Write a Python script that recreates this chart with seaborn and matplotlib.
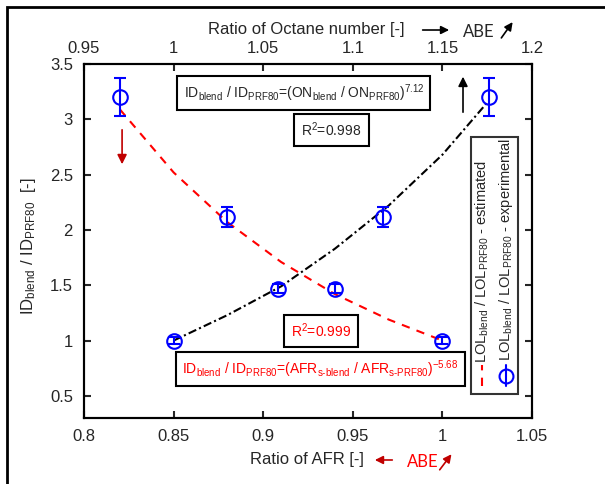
import numpy as np
import pandas as pd
import matplotlib
matplotlib.use('Agg')
import matplotlib.pyplot as plt
import seaborn as sns
from matplotlib.lines import Line2D
from matplotlib.patches import Rectangle

# experimental points, AFR based (bottom axis)
afr_ratio = [0.82, 0.88, 0.94, 1.0]
id_afr = [3.2, 2.12, 1.47, 1.0]
err_afr = [0.17, 0.09, 0.04, 0.03]

# experimental points, octane number based (top axis)
on_ratio = [1.0, 1.058, 1.117, 1.176]
id_on = [1.0, 1.47, 2.12, 3.2]
err_on = [0.03, 0.04, 0.09, 0.17]

# fitted curves
afr_fit_x = [0.82, 0.85, 0.88, 0.91, 0.94, 0.97, 1.0]
afr_fit_y = [3.09, 2.52, 2.07, 1.71, 1.42, 1.19, 1.0]
on_fit_x = [1.0, 1.03, 1.06, 1.09, 1.12, 1.15, 1.176]
on_fit_y = [1.0, 1.23, 1.49, 1.83, 2.22, 2.68, 3.17]

sns.set_style('ticks')
plt.rcParams['font.family'] = ['Liberation Sans', 'DejaVu Sans']
plt.rcParams['mathtext.fontset'] = 'custom'
plt.rcParams['mathtext.rm'] = 'Liberation Sans'
plt.rcParams['mathtext.it'] = 'Liberation Sans:italic'

fig = plt.figure(figsize=(6.05, 4.84), dpi=100)
ax = fig.add_axes([84 / 605, 66 / 484, 448 / 605, 354 / 484])
ax2 = ax.twiny()

red_df = pd.DataFrame({'x': afr_fit_x, 'y': afr_fit_y})
blk_df = pd.DataFrame({'x': on_fit_x, 'y': on_fit_y})
sns.lineplot(data=red_df, x='x', y='y', ax=ax, color='red', linestyle=(0, (4, 3.5)), lw=1.5)
sns.lineplot(data=blk_df, x='x', y='y', ax=ax2, color='black', linestyle=(0, (4, 1.5, 1, 1.5)), lw=1.5)

ax.errorbar(afr_ratio, id_afr, yerr=err_afr, fmt='o', mfc='none', mec='blue', ecolor='blue',
            ms=10.5, mew=1.5, elinewidth=1.5, capsize=4, capthick=1.5, zorder=5)
ax2.errorbar(on_ratio, id_on, yerr=err_on, fmt='o', mfc='none', mec='blue', ecolor='blue',
             ms=10.5, mew=1.5, elinewidth=1.5, capsize=4, capthick=1.5, zorder=5)

ax.set_xlim(0.8, 1.05)
ax.set_ylim(0.3, 3.5)
ax2.set_xlim(0.95, 1.2)
ax.set_xticks(np.arange(0.8, 1.051, 0.05))
ax.set_xticklabels(['0.8', '0.85', '0.9', '0.95', '1', '1.05'])
ax.set_yticks(np.arange(0.5, 3.51, 0.5))
ax.set_yticklabels(['0.5', '1', '1.5', '2', '2.5', '3', '3.5'])
ax2.set_xticks(np.arange(0.95, 1.201, 0.05))
ax2.set_xticklabels(['0.95', '1', '1.05', '1.1', '1.15', '1.2'])
ax.set_xlabel('')
ax.set_ylabel(r'ID$_{\rm blend}$ / ID$_{\rm PRF80}$  [-]', fontsize=12)
ax.yaxis.set_label_coords(-0.103, 0.486)
ax2.set_xlabel('')

for a in (ax, ax2):
    for s in a.spines.values():
        s.set_linewidth(1.5)
        s.set_color('black')
ax.tick_params(direction='in', length=5, width=1.5, labelsize=12, right=True, top=False, pad=8)
ax2.tick_params(direction='in', length=5, width=1.5, labelsize=12, pad=6)

# equation boxes
box = dict(boxstyle='square,pad=0.45', fc='white', ec='black', lw=1.5)
ax.text(0.491, 0.917, r'ID$_{\rm blend}$ / ID$_{\rm PRF80}$=(ON$_{\rm blend}$ / ON$_{\rm PRF80}$)$^{7.12}$',
        transform=ax.transAxes, ha='center', va='center', fontsize=10, bbox=box)
ax.text(0.5525, 0.814, r'R$^2$=0.998', transform=ax.transAxes, ha='center', va='center',
        fontsize=10, bbox=dict(boxstyle='square,pad=0.5', fc='white', ec='black', lw=1.5))
ax.text(0.530, 0.246, r'R$^2$=0.999', color='red', transform=ax.transAxes, ha='center', va='center',
        fontsize=10, bbox=dict(boxstyle='square,pad=0.5', fc='white', ec='black', lw=1.5))
ax.text(0.528, 0.138, r'ID$_{\rm blend}$ / ID$_{\rm PRF80}$=(AFR$_{\rm s\text{-}blend}$ / AFR$_{\rm s\text{-}PRF80}$)$^{-5.68}$',
        color='red', transform=ax.transAxes, ha='center', va='center', fontsize=10, bbox=box)

# arrows inside the axes
ax.annotate('', xy=(0.846, 0.972), xytext=(0.846, 0.856), xycoords='axes fraction',
            arrowprops=dict(arrowstyle='-|>', color='black', lw=1.2, mutation_scale=14))
ax.annotate('', xy=(0.085, 0.709), xytext=(0.085, 0.822), xycoords='axes fraction',
            arrowprops=dict(arrowstyle='-|>', color='#C00000', lw=1.2, mutation_scale=14))

# rotated legend
ax.add_patch(Rectangle((0.864, 0.068), 0.105, 0.726, transform=ax.transAxes,
                       fc='white', ec='#333333', lw=1.5, zorder=6))
ax.add_line(Line2D([0.889, 0.889], [0.09, 0.15], transform=ax.transAxes, color='red',
                   lw=1.5, linestyle=(0, (4, 3.5)), zorder=7))
ax.add_line(Line2D([0.941, 0.941], [0.09, 0.15], transform=ax.transAxes, color='blue',
                   lw=1.5, zorder=7))
ax.plot([0.941], [0.12], transform=ax.transAxes, marker='o', ms=10, mfc='none', mec='blue',
        mew=1.5, zorder=7)
ax.text(0.889, 0.155, r'LOL$_{\rm blend}$ / LOL$_{\rm PRF80}$ - estimated', rotation=90,
        transform=ax.transAxes, ha='center', va='bottom', fontsize=10.5, zorder=7)
ax.text(0.941, 0.16, r'LOL$_{\rm blend}$ / LOL$_{\rm PRF80}$ - experimental', rotation=90,
        transform=ax.transAxes, ha='center', va='bottom', fontsize=10.5, zorder=7)

# axis titles with ABE arrows
fig.text(0.507, 0.940, 'Ratio of Octane number [-]', ha='center', va='center', fontsize=12)
fig.add_artist(matplotlib.patches.FancyArrowPatch((0.694, 0.938), (0.747, 0.938), transform=fig.transFigure,
                                                  arrowstyle='-|>', color='black', lw=1.2, mutation_scale=12))
fig.text(0.792, 0.934, 'ABE', ha='center', va='center', fontsize=12, family=['Lato', 'DejaVu Sans'])
fig.add_artist(matplotlib.patches.FancyArrowPatch((0.826, 0.917), (0.850, 0.959), transform=fig.transFigure,
                                                  arrowstyle='-|>', color='black', lw=1.2, mutation_scale=12))

fig.text(0.508, 0.0496, 'Ratio of AFR [-]', ha='center', va='center', fontsize=12)
fig.add_artist(matplotlib.patches.FancyArrowPatch((0.653, 0.0496), (0.615, 0.0496), transform=fig.transFigure,
                                                  arrowstyle='-|>', color='#C00000', lw=1.2, mutation_scale=12))
fig.text(0.698, 0.0455, 'ABE', ha='center', va='center', fontsize=12, color='red', family=['Lato', 'DejaVu Sans'])
fig.add_artist(matplotlib.patches.FancyArrowPatch((0.724, 0.0248), (0.749, 0.0661), transform=fig.transFigure,
                                                  arrowstyle='-|>', color='#C00000', lw=1.2, mutation_scale=12))

# outer frame (left and top edges visible)
fig.add_artist(Rectangle((7 / 605, -0.2), 1.2, 0.2 + 477 / 484, transform=fig.transFigure,
                         fill=False, ec='black', lw=2))

fig.savefig('out.png', dpi=100)
